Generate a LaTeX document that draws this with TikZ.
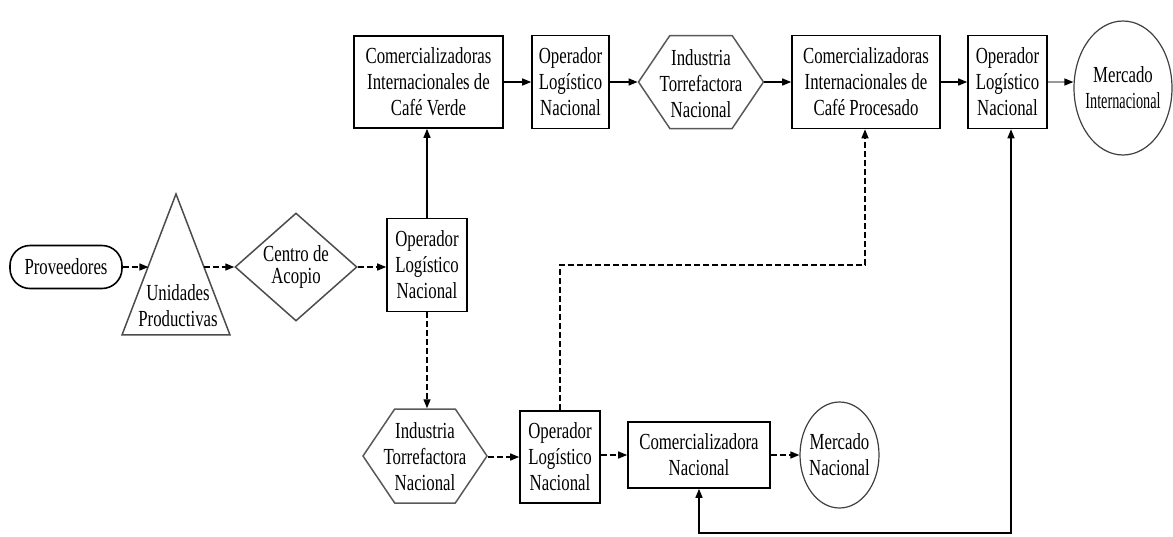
\documentclass[tikz,border=0pt]{standalone}
\usepackage{fontspec}
\setmainfont{Liberation Serif}[FakeStretch=0.73]
\newfontfamily\narrowserif{Liberation Serif}[FakeStretch=0.62]
\usetikzlibrary{shapes.geometric,shapes.symbols,arrows.meta}

\begin{document}
\begin{tikzpicture}[x=1pt,y=-1pt,
  every node/.style={font=\fontsize{23}{26}\selectfont, align=center, inner sep=0pt},
  box/.style={draw, line width=1.6pt, rectangle},
  pill/.style={draw, line width=1.6pt, rectangle, rounded corners=20pt},
  tri/.style={draw=black!70, line width=1.5pt, isosceles triangle,
    isosceles triangle stretches, shape border rotate=90,
    minimum height=141pt, minimum width=108pt, anchor=apex},
  dia/.style={draw=black!70, line width=1.5pt, diamond, aspect=1.13,
    minimum width=122pt, minimum height=108pt},
  hexa/.style={draw=black!65, line width=1.5pt, signal, signal to=west and east,
    signal pointer angle=112},
  oval/.style={draw=black!75, line width=1.2pt, ellipse, inner xsep=-6pt},
  tip/.style={-{Triangle[length=9pt,width=7pt]}},
  link/.style={line width=1.4pt, tip},
  dlink/.style={line width=1.4pt, tip, dash pattern=on 6pt off 3pt},
]
\useasboundingbox (0,0) rectangle (1173,536);

% ---- left column: suppliers to collection centre
\node[pill, minimum width=112pt, minimum height=43pt] (prov) at (66,267) {Proveedores};
\node[tri] (up) at (176,192) {};
\node (upt) at (178,306) {Unidades\\Productivas};
\node[dia, font=\fontsize{23}{22}\selectfont] (cda) at (296,267) {Centro de\\Acopio};
\node[box, minimum width=80pt, minimum height=93pt] (opm) at (427,265) {Operador\\Log\'istico\\Nacional};

% ---- export chain (top row)
\node[box, minimum width=149pt, minimum height=92pt] (cv) at (428.5,82) {Comercializadoras\\Internacionales de\\Caf\'e Verde};
\node[box, minimum width=77pt, minimum height=93pt] (op1) at (570.5,82) {Operador\\Log\'istico\\Nacional};
\node[hexa, minimum width=125pt, minimum height=93pt] (hext) at (701,82) {};
\node (hextt) at (701,84) {Industria\\Torrefactora\\Nacional};
\node[box, minimum width=148pt, minimum height=93pt] (cp) at (866,82) {Comercializadoras\\Internacionales de\\Caf\'e Procesado};
\node[box, minimum width=79pt, minimum height=93pt] (op2) at (1007.5,82) {Operador\\Log\'istico\\Nacional};
\node[oval, minimum width=98pt, minimum height=134pt] (mi) at (1123,88) {Mercado\\{\narrowserif Internacional}};

% ---- domestic chain (bottom row)
\node[hexa, minimum width=124pt, minimum height=94pt] (hexb) at (425,456) {};
\node (hexbt) at (425,457) {Industria\\Torrefactora\\Nacional};
\node[box, minimum width=80pt, minimum height=92pt] (opb) at (560,457) {Operador\\Log\'istico\\Nacional};
\node[box, minimum width=142pt, minimum height=66pt] (cn) at (699,455) {Comercializadora\\Nacional};
\node[oval, minimum width=79pt, minimum height=106pt] (mn) at (839.5,455) {Mercado\\Nacional};

% ---- routing points
\coordinate (bend) at (865,265);
\coordinate (fb) at (1011,533);

% ---- connectors
\draw[dlink] (prov.east) -- (prov.east -| up.left side);
\draw[dlink] (cda.west -| up.right side) -- (cda.west);
\draw[dlink] (cda.east) -- (cda.east -| opm.west);
\draw[link] (opm.north) -- (opm.north |- cv.south);
\draw[dlink] (opm.south) -- (opm.south |- hexb.north);

\draw[link] (cv) -- (op1);
\draw[link] (op1) -- (hext);
\draw[link] (hext) -- (cp);
\draw[link] (cp) -- (op2);
\draw[line width=1.4pt, draw=black!40, -{Triangle[length=9pt,width=7pt,color=black]}]
  (op2.east) -- (op2.east -| mi.west);

\draw[dlink] (hexb.east |- opb.west) -- (opb.west);
\draw[dlink] (opb.east |- cn.west) -- (cn.west);
\draw[dlink] (cn.east) -- (cn.east -| mn.west);

\draw[dlink] (opb.north) |- (bend) -- (cp.south -| bend);
\draw[line width=1.4pt, {Triangle[length=9pt,width=7pt]}-{Triangle[length=9pt,width=7pt]}]
  (fb |- op2.south) -- (fb) -| (cn.south);
\end{tikzpicture}
\end{document}
